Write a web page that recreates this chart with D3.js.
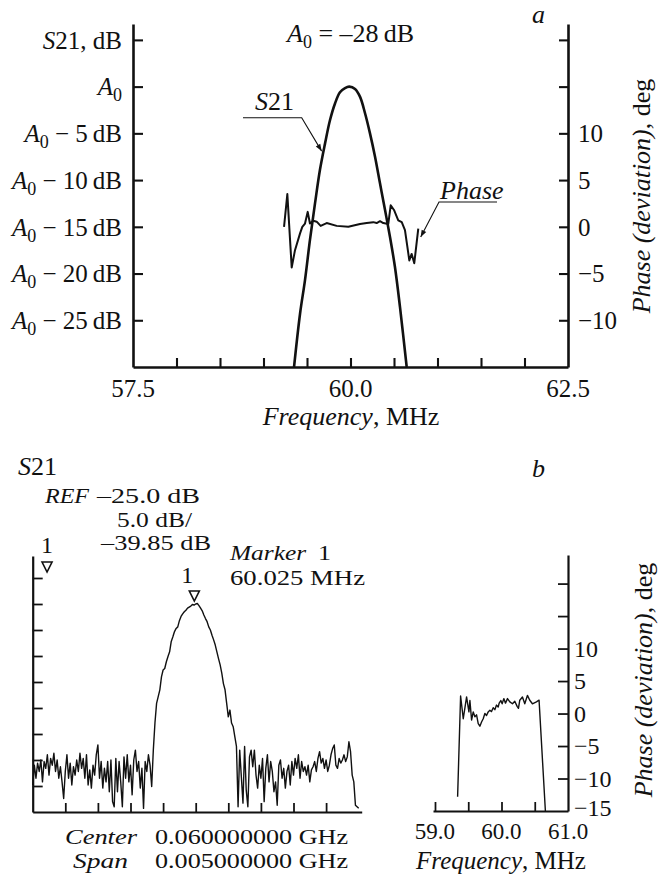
<!DOCTYPE html>
<html>
<head>
<meta charset="utf-8">
<script src="https://cdnjs.cloudflare.com/ajax/libs/d3/7.8.5/d3.min.js"></script>
<style>
body{margin:0;background:#fff;}
svg{display:block;font-family:"Liberation Serif","Times New Roman",serif;}
</style>
</head>
<body>
<script>
// ---- panel a : simulated S21 and phase ----
var s21Freq = [59.351,59.420,59.477,59.534,59.592,59.649,59.707,59.764,59.822,59.879,59.937,59.986,60.052,60.110,60.167,60.224,60.282,60.339,60.397,60.454,60.511,60.569,60.646];
var s21Db   = [-30,-24.3,-20.7,-16.4,-12.5,-8.9,-6.1,-3.6,-1.8,-0.6,-0.15,0,-0.25,-1.1,-2.85,-5.0,-7.5,-10.35,-13.2,-16.1,-19.3,-23.6,-30];

var phaseAFreq = [59.236,59.274,59.324,59.362,59.420,59.446,59.477,59.508,59.534,59.572,59.611,59.657,59.726,59.841,59.975,60.109,60.186,60.262,60.301,60.339,60.377,60.434,60.462,60.500,60.549,60.589,60.626,60.653,60.676,60.703,60.733,60.779];
var phaseADeg  = [0,3.5,-4.35,-2.5,-0.7,0,0.35,1.6,0.35,0.65,0.55,0.1,0.4,0.1,0,0.3,0.4,0.5,0.4,0.6,0.4,0.3,2.3,1.8,0.7,0.5,-0.35,-2.1,-3.6,-2.9,-3.9,-0.2];

var dbTicks = [5,0,-5,-10,-15,-20,-25];
var dbTickLabels = ["S21, dB","A0","A0 − 5dB","A0 − 10dB","A0 − 15dB","A0 − 20dB","A0 − 25dB"];
var phaseTicksA = [20,15,10,5,0,-5,-10];
var phaseLabelsA = [10,5,0,-5,-10];
var freqTicksA = [58,58.5,59,59.5,60,60.5,61,61.5,62];
var freqLabelsA = [57.5,60.0,62.5];

// ---- panel b : measured S21 trace (5 dB/div, 0.025 MHz per point) ----
var sweepStart = 57.5, sweepStep = 0.025;
var traceDb = [
-74.8,-71.0,-73.5,-70.6,-72.2,-70.0,-74.2,-70.3,-71.6,-69.0,-72.9,-69.7,-71.0,-68.7,-72.2,-70.0,-73.5,-71.3,-74.2,-77.4,
-72.2,-69.0,-73.5,-70.6,-74.8,-71.3,-72.9,-70.0,-72.2,-68.7,-71.6,-69.7,-73.5,-69.0,-74.8,-71.9,-75.4,-71.0,-72.9,-69.0,
-67.1,-73.5,-70.3,-75.4,-71.6,-74.2,-70.3,-76.1,-70.0,-78.0,-79.0,-69.7,-76.1,-70.3,-74.2,-79.0,-69.4,-73.5,-69.0,-74.2,
-71.0,-76.7,-70.0,-68.1,-72.2,-70.3,-75.4,-71.6,-79.3,-70.3,-72.2,-69.0,-71.0,
-75.1,-68.1,-62.9,-59.1,-57.8,-56.5,-54.0,-52.7,-52.4,-51.1,-50.1,-49.2,-47.2,-46.3,-45.3,-44.7,-44.4,-43.2,-42.4,-41.9,
-41.5,-41.2,-40.8,-40.6,-40.4,-40.1,-40.2,-40.0,-39.9,-40.3,-40.8,-41.3,-42.1,-42.8,-43.4,-44.4,-45.0,-46.0,-46.9,-47.9,
-49.2,-50.5,-51.7,-53.3,-55.3,-56.5,-59.1,-61.7,-60.4,-62.9,-63.6,-65.5,-67.4,-79.0,-68.1,-73.2,-78.3,-67.4,-75.8,-79.0,
-69.4,-68.1,-71.3,-68.1,
-72.9,-75.4,-71.0,-73.5,-69.7,-78.0,-71.6,-69.0,-74.2,-70.3,-72.2,-76.1,-74.2,-78.7,-71.0,-70.0,-73.5,-71.6,-75.4,-72.2,
-71.0,-74.8,-70.3,-72.9,-69.7,-71.6,-69.0,-73.5,-70.3,-72.2,-71.3,-72.9,-71.0,-74.2,-71.9,-71.3,-70.3,-72.2,-69.7,-68.4,
-70.6,-69.7,-71.6,-70.0,-72.2,-71.0,-69.0,-67.8,-67.1,-71.0,-71.6,-69.7,-70.6,-70.0,-69.0,-70.3,-69.4,-66.5,-68.4,-72.9,
-74.2,-78.7,-79.0,-79.3
];
var dbTicksB = [-75,-70,-65,-60,-55,-50,-45,-40,-35];
var freqTicksB = [58,58.5,59,59.5,60,60.5,61,61.5,62];
var markerFreqs = [57.72, 60.025];

var phaseBFreq = [59.340,59.385,59.425,59.475,59.51,59.525,59.55,59.575,59.60,59.625,59.65,59.675,59.70,59.725,59.75,59.775,59.80,59.825,59.85,59.875,59.90,59.925,59.95,59.965,59.99,60.01,60.035,60.06,60.09,60.125,60.165,60.20,60.235,60.255,60.275,60.315,60.35,60.39,60.425,60.465,60.525,60.565,60.66];
var phaseBDeg  = [-12.8,2.7,-0.8,2.55,0.25,2.0,-1.0,0.25,-0.5,-0.2,-1.55,-1.95,-1.3,-0.8,0,-0.3,0.25,0.5,0.3,0.9,0.6,1.3,1.0,1.6,2.0,1.5,2.3,1.6,2.3,1.8,1.5,1.9,1.1,0.8,2.05,2.55,1.5,2.8,2.05,1.5,1.8,2.05,-15];
var phaseTicksB = [20,15,10,5,0,-5,-10];
var phaseLabelsB = [10,5,0,-5,-10,-15];
var freqTicksBR = [59,59.5,60,60.5];
var freqLabelsBR = [59.0,60.0,61.0];

var svg = d3.select("body").append("svg").attr("width",659).attr("height",880);

function zip(a,b){ return a.map(function(v,i){ return [v,b[i]]; }); }
function styleAxis(g,w){
	g.select(".domain").attr("stroke","#111").attr("stroke-width",w);
	g.selectAll(".tick line").attr("stroke","#111").attr("stroke-width",w*0.8);
	g.selectAll(".tick text").remove();
}
// italic text with roman tail
function mixText(sel,x,y,ital,rom,size,anchor){
	var t = sel.append("text").attr("x",x).attr("y",y).attr("font-size",size)
		.attr("text-anchor",anchor||"start").attr("fill","#111");
	t.append("tspan").attr("font-style","italic").text(ital);
	if(rom) t.append("tspan").text(rom);
	return t;
}
function arrowHead(g,x1,y1,x2,y2){
	var a = Math.atan2(y2-y1,x2-x1), L=7, W=2.6;
	var p = [[x2,y2],
		[x2-L*Math.cos(a)+W*Math.sin(a), y2-L*Math.sin(a)-W*Math.cos(a)],
		[x2-L*Math.cos(a)-W*Math.sin(a), y2-L*Math.sin(a)+W*Math.cos(a)]];
	g.append("path").attr("d","M"+p.join("L")+"Z").attr("fill","#111");
}

// =============== panel a ===============
var xA = d3.scaleLinear().domain([57.5,62.5]).range([133,568]);
var yA = d3.scaleLinear().domain([-30,6.7]).range([367,24]);
var pA = d3.scaleLinear().domain([-15,21.7]).range([367,24]);

var gA = svg.append("g");
gA.append("g").attr("transform","translate(133,0)")
	.call(d3.axisLeft(yA).tickValues(dbTicks).tickSizeInner(-10).tickSizeOuter(0)).call(styleAxis,2.6);
gA.append("g").attr("transform","translate(568,0)")
	.call(d3.axisRight(pA).tickValues(phaseTicksA).tickSizeInner(-9).tickSizeOuter(0)).call(styleAxis,2.6);
gA.append("g").attr("transform","translate(0,367)")
	.call(d3.axisBottom(xA).tickValues(freqTicksA).tickSizeInner(-9).tickSizeOuter(0)).call(styleAxis,2.6);

// left labels
dbTicks.forEach(function(v,i){
	var lab = dbTickLabels[i];
	var t = gA.append("text").attr("x",122).attr("y",yA(v)).attr("dy","0.35em")
		.attr("text-anchor","end").attr("font-size",25).attr("fill","#111");
	if(lab.indexOf("A0")===0){
		t.append("tspan").attr("font-style","italic").text("A");
		t.append("tspan").attr("font-size",18).attr("dy",6).text("0");
		if(lab.length>2){
			var rest = lab.slice(3);
			t.append("tspan").attr("dy",-6).text(" " + rest.replace("dB","\u2009dB"));
		}
	} else {
		t.append("tspan").attr("font-style","italic").text("S");
		t.append("tspan").text("21, dB");
	}
});
phaseLabelsA.forEach(function(v){
	gA.append("text").attr("x",578).attr("y",pA(v)).attr("dy","0.35em")
		.attr("font-size",25).attr("fill","#111").text(String(v).replace("-","\u2212"));
});
freqLabelsA.forEach(function(v){
	gA.append("text").attr("x",xA(v)).attr("y",397).attr("text-anchor","middle")
		.attr("font-size",25).attr("fill","#111").text(v.toFixed(1));
});
mixText(gA,351,425,"Frequency",", MHz",26,"middle");
var tt = gA.append("text").attr("transform","translate(650,196) rotate(-90)")
	.attr("text-anchor","middle").attr("font-size",26).attr("fill","#111");
tt.append("tspan").attr("font-style","italic").text("Phase (deviation)");
tt.append("tspan").text(", deg");
gA.append("text").attr("x",532).attr("y",23).attr("font-size",26).attr("font-style","italic").attr("fill","#111").text("a");

var a0 = gA.append("text").attr("x",287).attr("y",42).attr("font-size",26).attr("fill","#111");
a0.append("tspan").attr("font-style","italic").text("A");
a0.append("tspan").attr("font-size",18).attr("dy",6).text("0");
a0.append("tspan").attr("dy",-6).text(" = \u201328\u2009dB");

// curves
var lineA = d3.line().x(function(d){return xA(d[0]);}).y(function(d){return yA(d[1]);}).curve(d3.curveCatmullRom);
gA.append("path").datum(zip(s21Freq,s21Db)).attr("d",lineA)
	.attr("fill","none").attr("stroke","#111").attr("stroke-width",2.6);
var lineP = d3.line().x(function(d){return xA(d[0]);}).y(function(d){return pA(d[1]);});
gA.append("path").datum(zip(phaseAFreq,phaseADeg)).attr("d",lineP)
	.attr("fill","none").attr("stroke","#111").attr("stroke-width",2).attr("stroke-linejoin","round");

// annotations
mixText(gA,255,110,"S","21",26);
var tipS = [xA(59.668), yA(-6.9)];
gA.append("path").attr("d","M243,117.7L301.7,117.7L"+tipS.join(","))
	.attr("fill","none").attr("stroke","#111").attr("stroke-width",1.1);
arrowHead(gA,301.7,117.7,tipS[0],tipS[1]);
mixText(gA,440,199,"Phase","",26);
var tipP = [xA(60.807), pA(-1.1)];
gA.append("path").attr("d","M497,202L439,202L"+tipP.join(","))
	.attr("fill","none").attr("stroke","#111").attr("stroke-width",1.1);
arrowHead(gA,439,202,tipP[0],tipP[1]);

// =============== panel b, left: analyzer screen ===============
var xB = d3.scaleLinear().domain([57.5,62.546]).range([32.7,361.7]);
var yB = d3.scaleLinear().domain([-80,-30.77]).range([812,556]);
var gB = svg.append("g");
gB.append("g").attr("transform","translate(32.7,0)")
	.call(d3.axisLeft(yB).tickValues(dbTicksB).tickSizeInner(-10).tickSizeOuter(0)).call(styleAxis,2.2);
gB.append("g").attr("transform","translate(0,812)")
	.call(d3.axisBottom(xB).tickValues(freqTicksB).tickSizeInner(-9).tickSizeOuter(0)).call(styleAxis,2.2);

var lineB = d3.line().x(function(d,i){return xB(sweepStart + i*sweepStep);}).y(function(d){return yB(d);});
gB.append("path").datum(traceDb).attr("d",lineB)
	.attr("fill","none").attr("stroke","#111").attr("stroke-width",1.4).attr("stroke-linejoin","round");

// markers
var markerY = [[553,562],[583,591]];
markerFreqs.forEach(function(f,i){
	var mx = xB(f) - (i===1?3:0);
	var ty = markerY[i][1];
	gB.append("path").attr("d","M"+(mx-5)+","+ty+"L"+(mx+5)+","+ty+"L"+mx+","+(ty+10)+"Z")
		.attr("fill","none").attr("stroke","#111").attr("stroke-width",1.6);
	gB.append("text").attr("x",mx-(i===1?7:0)).attr("y",markerY[i][0]).attr("text-anchor","middle")
		.attr("font-size",24).attr("fill","#111").text("1");
});

function fitText(x,y,str,w,italic){
	return gB.append("text").attr("x",x).attr("y",y).attr("font-size",21).attr("fill","#111")
		.attr("font-style",italic?"italic":"normal")
		.attr("textLength",w).attr("lengthAdjust","spacingAndGlyphs").text(str);
}
mixText(gB,18,475,"S","21",26);
fitText(45,503,"REF",44,true);
fitText(97,503,"\u201325.0 dB",103,false);
fitText(117,527,"5.0 dB/",75,false);
fitText(101,550,"\u201339.85 dB",110,false);
fitText(230,560,"Marker",76,true);
fitText(318,560,"1",13,false);
fitText(230,585,"60.025 MHz",135,false);
fitText(65,844,"Center",72,true);
fitText(155,844,"0.060000000 GHz",193,false);
fitText(73,868,"Span",55,true);
fitText(155,868,"0.005000000 GHz",193,false);

// =============== panel b, right: phase ===============
var xC = d3.scaleLinear().domain([58.97,61.0]).range([433,568]);
var yC = d3.scaleLinear().domain([-15,24.4]).range([811,555]);
var gC = svg.append("g");
gC.append("g").attr("transform","translate(568,0)")
	.call(d3.axisRight(yC).tickValues(phaseTicksB).tickSizeInner(-10).tickSizeOuter(0)).call(styleAxis,2.2);
gC.append("g").attr("transform","translate(0,811)")
	.call(d3.axisBottom(xC).tickValues(freqTicksBR).tickSizeInner(-9).tickSizeOuter(0)).call(styleAxis,2.2);
var lineC = d3.line().x(function(d){return xC(d[0]);}).y(function(d){return yC(d[1]);});
gC.append("path").datum(zip(phaseBFreq,phaseBDeg)).attr("d",lineC)
	.attr("fill","none").attr("stroke","#111").attr("stroke-width",1.4).attr("stroke-linejoin","round");

phaseLabelsB.forEach(function(v){
	gC.append("text").attr("x",574).attr("y",yC(v) - (v===-15?3:0)).attr("dy","0.35em")
		.attr("font-size",24).attr("fill","#111").text(String(v).replace("-","\u2212"));
});
freqLabelsBR.forEach(function(v){
	gC.append("text").attr("x",xC(v)).attr("y",839).attr("text-anchor","middle")
		.attr("font-size",23).attr("fill","#111").text(v.toFixed(1));
});
mixText(gC,501,869,"Frequency",", MHz",25,"middle");
var tb = gC.append("text").attr("transform","translate(652,680) rotate(-90)")
	.attr("text-anchor","middle").attr("font-size",26).attr("fill","#111");
tb.append("tspan").attr("font-style","italic").text("Phase (deviation)");
tb.append("tspan").text(", deg");
gC.append("text").attr("x",532).attr("y",477).attr("font-size",26).attr("font-style","italic").attr("fill","#111").text("b");
</script>
</body>
</html>
